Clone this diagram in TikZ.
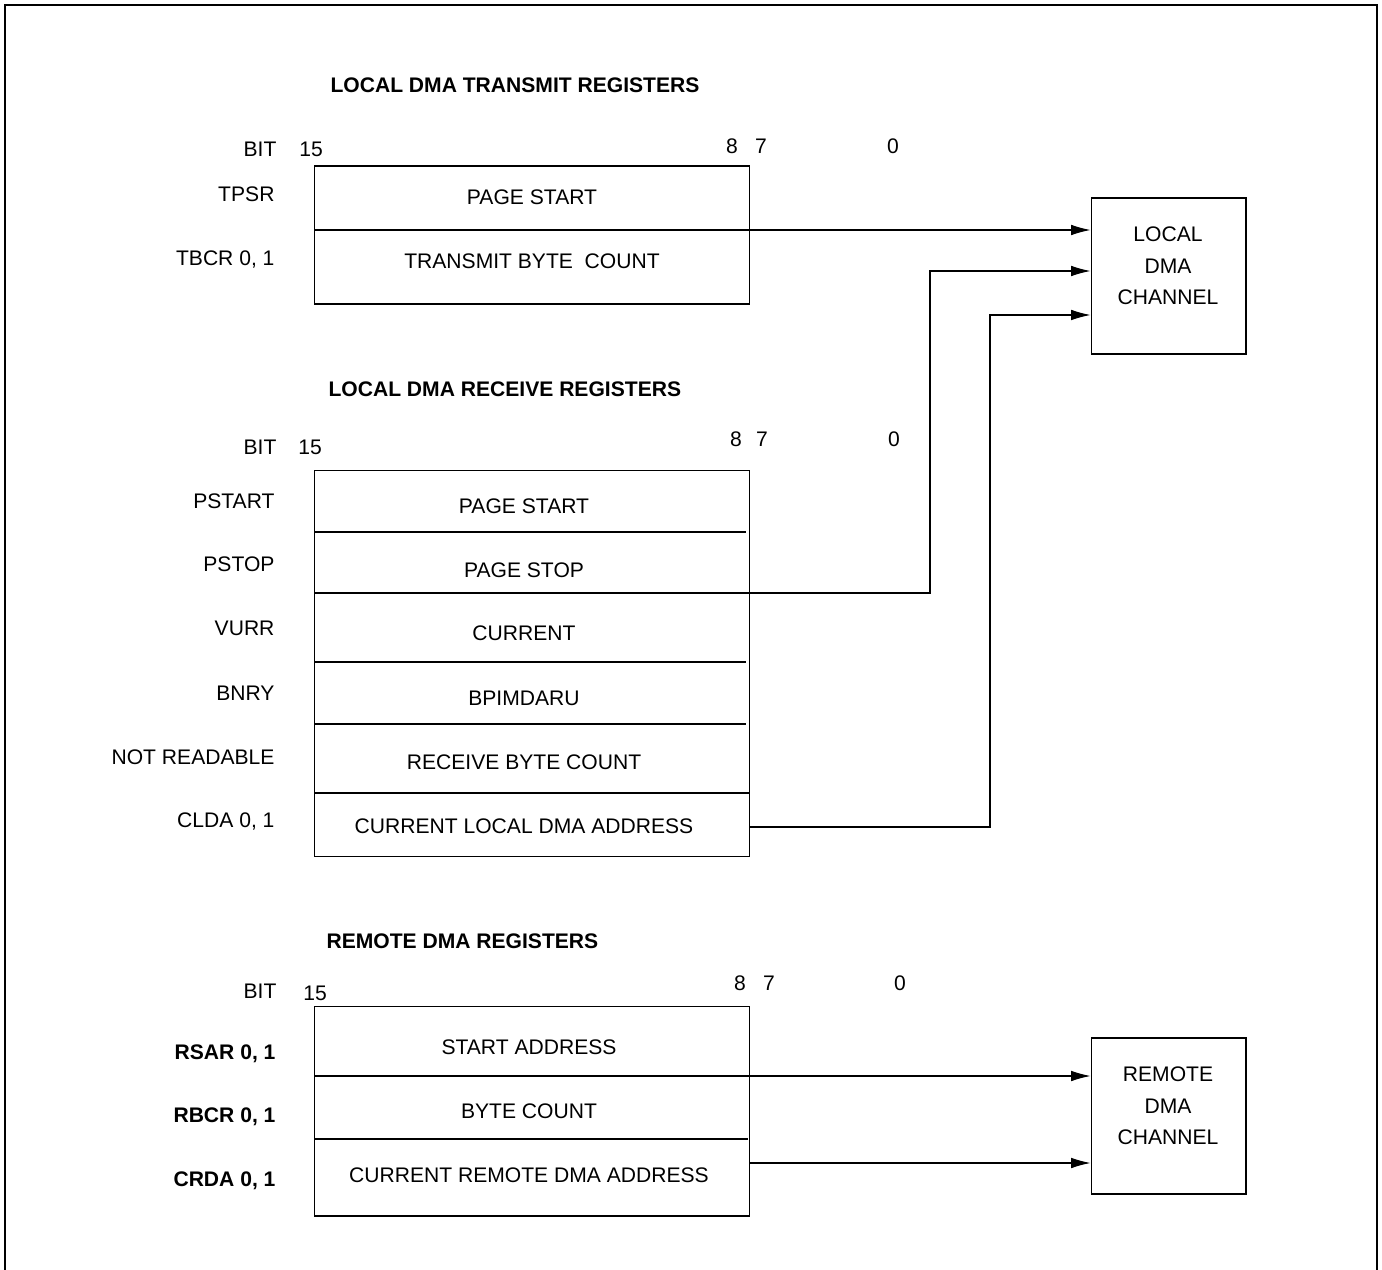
\documentclass[tikz,border=0pt]{standalone}
\usepackage{fontspec}
\setmainfont{Liberation Sans}
\usetikzlibrary{arrows.meta}

\begin{document}
\begin{tikzpicture}[x=0.02cm,y=-0.02cm,line width=0.6pt,
    every node/.style={font=\fontsize{12}{18}\selectfont,inner sep=0pt},
    hdr/.style={anchor=west,font=\fontsize{12}{18}\selectfont\bfseries},
    reglbl/.style={anchor=east},
    boldlbl/.style={anchor=east,font=\fontsize{12}{18}\selectfont\bfseries},
    regbox/.style={draw,minimum width=8.72cm},
    chanbox/.style={draw,minimum width=3.1cm,minimum height=3.12cm},
    conn/.style={-{Latex[length=11pt,width=6pt]}}]
            \useasboundingbox (0,0) rectangle (1382,1270);
            \draw (5,1275) -- (5,5) -- (1377,5) -- (1377,1275);

            \node[hdr] (txhdr) at (330,85) {LOCAL DMA TRANSMIT REGISTERS};
            \node[reglbl] (txbit) at (277,149) {BIT};
            \node (txb15) at (311,149) {15};
            \node (txb8) at (732,146) {8};
            \node (txb7) at (761,146) {7};
            \node (txb0) at (893,146) {0};
            \node[regbox,minimum height=2.76cm] (txreg) at (532,235) {};
            \node[reglbl] (tpsr) at (275,194) {TPSR};
            \node[reglbl] (tbcr) at (275,259) {TBCR 0, 1};
            \node (tpsrf) at (532,197) {PAGE START};
            \node (tbcrf) at (532,261) {TRANSMIT BYTE\ \ COUNT};

            \node[chanbox] (locch) at (1168.5,276) {};
            \node[align=center] (locchtxt) at (1168,266) {LOCAL\\DMA\\CHANNEL};

            \coordinate (tpsrout) at (314,230);
            \draw[conn] (tpsrout) -- (locch.west |- tpsrout);

            \node[hdr] (rxhdr) at (328,389) {LOCAL DMA RECEIVE REGISTERS};
            \node[reglbl] (rxbit) at (277,447) {BIT};
            \node (rxb15) at (310,447) {15};
            \node (rxb8) at (736,439) {8};
            \node (rxb7) at (762,439) {7};
            \node (rxb0) at (894,439) {0};
            \node[regbox,minimum height=7.74cm] (rxreg) at (532,663.5) {};
            \draw (314,532) -- (746,532);
            \coordinate (pstopout) at (314,593);
            \draw (314,662) -- (746,662);
            \draw (314,724) -- (746,724);
            \draw (314,793) -- (750,793);
            \node[reglbl] (pstart) at (275,501) {PSTART};
            \node[reglbl] (pstop) at (275,564) {PSTOP};
            \node[reglbl] (vurr) at (275,628) {VURR};
            \node[reglbl] (bnry) at (275,693) {BNRY};
            \node[reglbl] (notrd) at (275,757) {NOT READABLE};
            \node[reglbl] (clda) at (275,821) {CLDA 0, 1};
            \node (pstartf) at (524,506) {PAGE START};
            \node (pstopf) at (524,570) {PAGE STOP};
            \node (vurrf) at (524,633) {CURRENT};
            \node (bnryf) at (524,698) {BPIMDARU};
            \node (notrdf) at (524,762) {RECEIVE BYTE COUNT};
            \node (cldaf) at (524,826) {CURRENT LOCAL DMA ADDRESS};

            \draw[conn] (pstopout) -- ++(616,0) |- ([yshift=0.1cm]locch.west);
            \coordinate (cldaout) at (750,827);
            \draw[conn] (cldaout) -- ++(240,0) |- ([yshift=-0.78cm]locch.west);

            \node[hdr] (rmhdr) at (326,941) {REMOTE DMA REGISTERS};
            \node[reglbl] (rmbit) at (277,991) {BIT};
            \node (rmb15) at (315,993) {15};
            \node (rmb8) at (740,983) {8};
            \node (rmb7) at (769,983) {7};
            \node (rmb0) at (900,983) {0};
            \node[regbox,minimum height=4.2cm] (rmreg) at (532,1111) {};
            \coordinate (rsarout) at (314,1076);
            \draw (314,1139) -- (748,1139);
            \node[boldlbl] (rsar) at (276,1054) {RSAR 0, 1};
            \node[boldlbl] (rbcr) at (276,1117) {RBCR 0, 1};
            \node[boldlbl] (crda) at (276,1181) {CRDA 0, 1};
            \node (rsarf) at (529,1047) {START ADDRESS};
            \node (rbcrf) at (529,1111) {BYTE COUNT};
            \node (crdaf) at (529,1175) {CURRENT REMOTE DMA ADDRESS};

            \node[chanbox] (remch) at (1168.5,1116) {};
            \node[align=center] (remchtxt) at (1168,1106) {REMOTE\\DMA\\CHANNEL};

            \draw[conn] (rsarout) -- (remch.west |- rsarout);
            \coordinate (crdaout) at (750,1163);
            \draw[conn] (crdaout) -- (remch.west |- crdaout);
        \end{tikzpicture}
\end{document}
